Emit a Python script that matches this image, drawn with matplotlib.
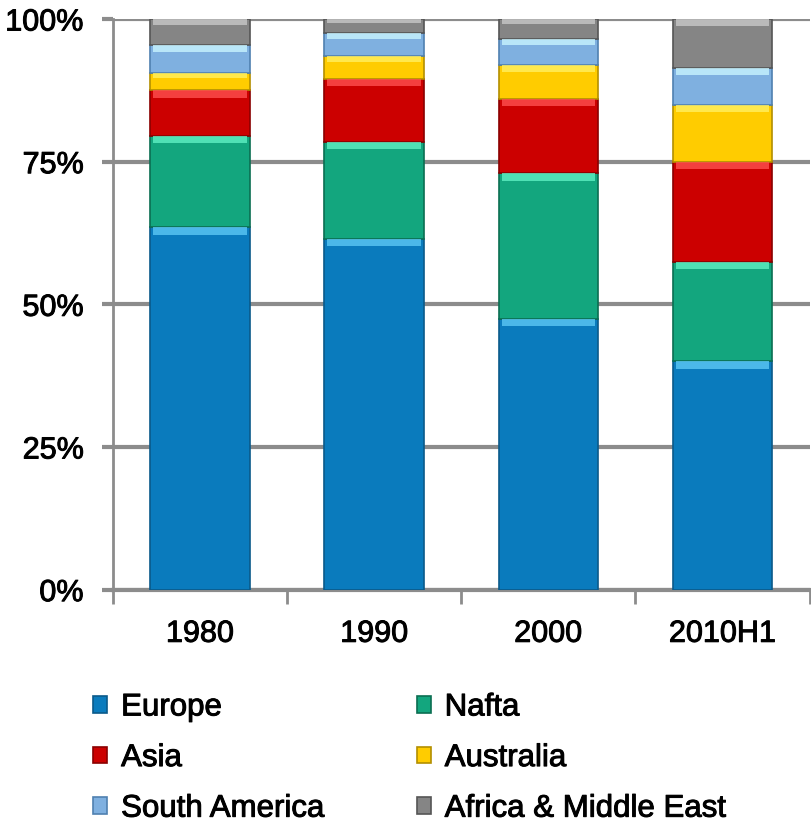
import matplotlib.pyplot as plt
import matplotlib.patheffects as pe
import numpy as np

plt.rcParams['font.family'] = ['Liberation Sans', 'DejaVu Sans']

years = ['1980', '1990', '2000', '2010H1']
europe = [63.5, 61.5, 47.5, 40.0]
nafta = [16.0, 17.0, 25.5, 17.5]
asia = [8.0, 11.0, 13.0, 17.5]
australia = [3.0, 4.0, 6.0, 10.0]
south_america = [5.0, 4.0, 4.5, 6.5]
africa_me = [4.5, 2.5, 3.5, 8.5]

series = [
    ('Europe', europe, '#0a7bbd', '#0a5a8a', '#5cc8f5'),
    ('Nafta', nafta, '#13a67e', '#0b6e52', '#5ff0c4'),
    ('Asia', asia, '#cc0000', '#8a0000', '#ff5050'),
    ('Australia', australia, '#ffcc00', '#b38f00', '#fff060'),
    ('South America', south_america, '#7fb0e0', '#4f80b0', '#c8f4ff'),
    ('Africa & Middle East', africa_me, '#858585', '#555555', '#c8c8c8'),
]

heavy = [pe.withStroke(linewidth=0.7, foreground='black')]

fig = plt.figure(figsize=(8.12, 8.27), dpi=100)
ax = fig.add_axes([0.139, 0.287, 0.858, 0.690])

x = np.arange(len(years))
width = 0.57
bottom = np.zeros(len(years))
handles = {}
for name, vals, col, dark, light in series:
    vals = np.array(vals)
    h = ax.bar(x, vals, width, bottom=bottom, color=col, edgecolor=dark,
               linewidth=1.2, zorder=3, label=name)
    # bevel highlight along the top of each segment
    hl = np.minimum(vals * 0.25, 1.3)
    ax.bar(x, hl, width * 0.94, bottom=bottom + vals - hl, color=light,
           linewidth=0, zorder=4, alpha=0.8)
    handles[name] = h
    bottom += vals

ax.set_xlim(-0.5, len(years) - 0.5)
ax.set_ylim(0, 100)
ax.set_yticks([0, 25, 50, 75, 100])
ax.set_yticklabels(['0%', '25%', '50%', '75%', '100%'])
ax.set_xticks(x)
ax.set_xticklabels(years)
ax.set_xticks(np.arange(len(years) + 1) - 0.5, minor=True)

ax.grid(axis='y', color='#8c8c8c', linewidth=3, zorder=0)
ax.tick_params(axis='y', length=8, width=3, color='#8c8c8c', labelsize=22, pad=13)
ax.tick_params(axis='x', which='major', length=0, labelsize=22, pad=21)
ax.tick_params(axis='x', which='minor', length=10, width=2, color='#8c8c8c')
for lab in ax.get_xticklabels() + ax.get_yticklabels():
    lab.set_path_effects(heavy)
for s in ['top', 'right']:
    ax.spines[s].set_visible(False)
ax.spines['left'].set_color('#8c8c8c')
ax.spines['left'].set_linewidth(2)
ax.spines['bottom'].set_color('#8c8c8c')
ax.spines['bottom'].set_linewidth(3)

order = ['Europe', 'Asia', 'South America', 'Nafta', 'Australia', 'Africa & Middle East']
leg = fig.legend([handles[n] for n in order], order, ncol=2, frameon=False,
                 loc='lower left', bbox_to_anchor=(0.1145, 0.004), fontsize=22.5,
                 handlelength=0.45, handleheight=0.45, handletextpad=0.45,
                 columnspacing=2.95, labelspacing=0.66, borderpad=0,
                 borderaxespad=0)
for t in leg.get_texts():
    t.set_path_effects(heavy)

fig.savefig('out.png', dpi=100)
